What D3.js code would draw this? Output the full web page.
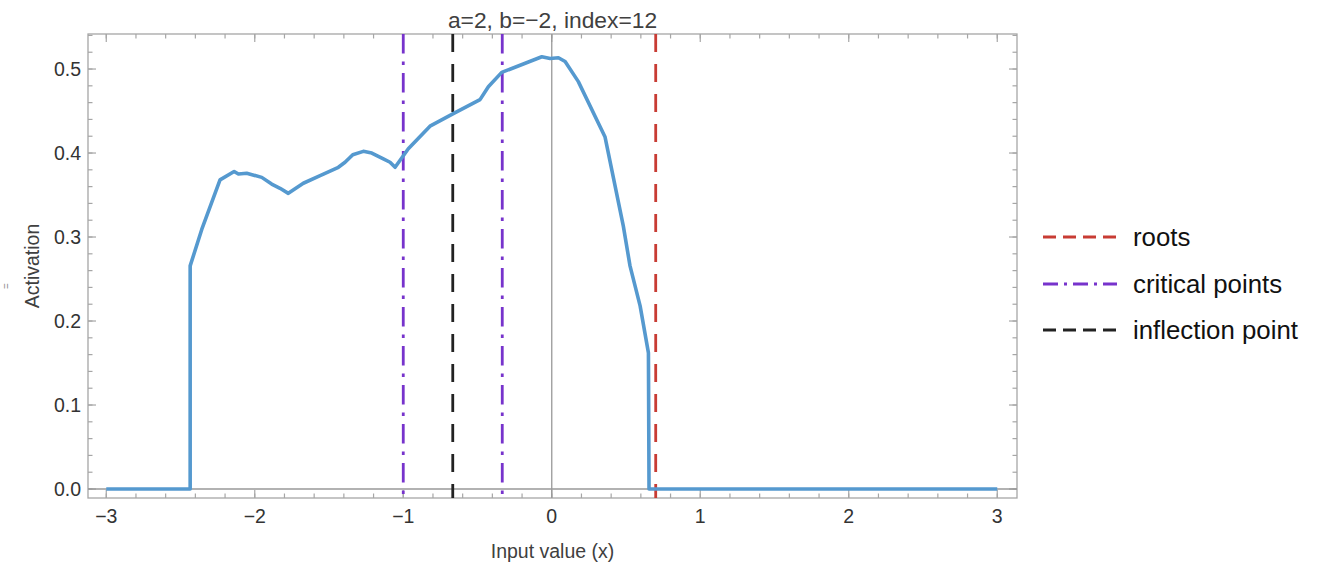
<!DOCTYPE html>
<html>
<head>
<meta charset="utf-8">
<script src="https://cdn.jsdelivr.net/npm/d3@7"></script>
<style>
  body { margin: 0; background: #fff; }
  svg { font-family: "Liberation Sans", Arial, sans-serif; }
</style>
</head>
<body>
<div id="chart"></div>
<script>
// curve
const xs = [-3, -2.435, -2.435, -2.357, -2.234, -2.139, -2.11, -2.054, -1.953, -1.886, -1.83, -1.774,
  -1.673, -1.56, -1.437, -1.392, -1.34, -1.269, -1.212, -1.134, -1.089, -1.055, -0.966, -0.82,
  -0.663, -0.483, -0.427, -0.337, -0.213, -0.067, -0.011, 0.045, 0.09, 0.179, 0.359, 0.482,
  0.527, 0.595, 0.651, 0.655, 1, 2, 3];
const activation = [0, 0, 0.2656, 0.309, 0.368, 0.378, 0.375, 0.376, 0.371, 0.363, 0.358, 0.352,
  0.364, 0.373, 0.383, 0.389, 0.398, 0.402, 0.400, 0.393, 0.389, 0.383, 0.405, 0.432,
  0.447, 0.4636, 0.479, 0.496, 0.5045, 0.5146, 0.5125, 0.5134, 0.509, 0.485, 0.419, 0.313,
  0.2656, 0.218, 0.162, 0, 0, 0, 0];

const roots = [0.7];
const criticalPoints = [-1, -1 / 3];
const inflectionPoints = [-2 / 3];

const xTicks = [-3, -2, -1, 0, 1, 2, 3];
const yTicks = [0, 0.1, 0.2, 0.3, 0.4, 0.5];

const width = 1336, height = 574;
const plotL = 88, plotR = 1017, plotT = 34, plotB = 498;

const blue = "#5599cf", red = "#c83c34", purple = "#7733cc", dark = "#222222";
const textCol = "#333333", frameCol = "#a6a6a6";

const svg = d3.select("#chart").append("svg")
  .attr("width", width).attr("height", height);

const x = d3.scaleLinear().domain([-3.123, 3.133]).range([plotL, plotR]);
const y = d3.scaleLinear().domain([-0.0107, 0.5417]).range([plotB, plotT]);

// frame
svg.append("rect")
  .attr("x", plotL).attr("y", plotT)
  .attr("width", plotR - plotL).attr("height", plotB - plotT)
  .attr("fill", "none").attr("stroke", frameCol).attr("stroke-width", 1.3);

// ticks on all four sides, pointing inward
const xMinor = d3.range(-3.2, 3.21, 0.2).filter(v => v > -3.123 && v < 3.133);
const yMinor = d3.range(0, 0.541, 0.02);

function tickLines(vals, len, horizontal) {
  vals.forEach(v => {
    if (horizontal) {
      const px = x(v);
      svg.append("line").attr("x1", px).attr("x2", px).attr("y1", plotB).attr("y2", plotB - len)
        .attr("stroke", frameCol).attr("stroke-width", 1.2);
      svg.append("line").attr("x1", px).attr("x2", px).attr("y1", plotT).attr("y2", plotT + len)
        .attr("stroke", frameCol).attr("stroke-width", 1.2);
    } else {
      const py = y(v);
      svg.append("line").attr("x1", plotL).attr("x2", plotL + len).attr("y1", py).attr("y2", py)
        .attr("stroke", frameCol).attr("stroke-width", 1.2);
      svg.append("line").attr("x1", plotR).attr("x2", plotR - len).attr("y1", py).attr("y2", py)
        .attr("stroke", frameCol).attr("stroke-width", 1.2);
    }
  });
}
tickLines(xMinor, 4.5, true);
tickLines(xTicks, 8, true);
tickLines(yMinor, 4.5, false);
tickLines(yTicks, 8, false);

// tick labels
svg.selectAll(".xl").data(xTicks).enter().append("text")
  .attr("x", d => x(d)).attr("y", 523)
  .attr("text-anchor", "middle").attr("font-size", 19.5).attr("fill", textCol)
  .text(d => d < 0 ? "\u2212" + Math.abs(d) : d);

svg.selectAll(".yl").data(yTicks).enter().append("text")
  .attr("x", 81).attr("y", d => y(d) + 7)
  .attr("text-anchor", "end").attr("font-size", 19.5).attr("fill", textCol)
  .text(d => d.toFixed(1));

// zero axis lines
svg.append("line").attr("x1", x(0)).attr("x2", x(0)).attr("y1", plotT).attr("y2", plotB)
  .attr("stroke", "#999").attr("stroke-width", 1.3);
svg.append("line").attr("x1", plotL).attr("x2", plotR).attr("y1", y(0)).attr("y2", y(0))
  .attr("stroke", "#999").attr("stroke-width", 1.3);

// reference lines
function vlines(vals, color, dash) {
  vals.forEach(v => {
    svg.append("line").attr("x1", x(v)).attr("x2", x(v)).attr("y1", plotT).attr("y2", plotB)
      .attr("stroke", color).attr("stroke-width", 2.8).attr("stroke-dasharray", dash);
  });
}
vlines(criticalPoints, purple, "19.5,8,3.5,8");
vlines(inflectionPoints, dark, "18,12");
vlines(roots, red, "18,12");

// activation curve
const line = d3.line().x((d, i) => x(xs[i])).y(d => y(d));
svg.append("path").datum(activation)
  .attr("d", line)
  .attr("fill", "none").attr("stroke", blue).attr("stroke-width", 3.6)
  .attr("stroke-linejoin", "round");

// titles
svg.append("text").attr("x", (plotL + plotR) / 2).attr("y", 28)
  .attr("text-anchor", "middle").attr("font-size", 22.8).attr("fill", "#404040")
  .text("a=2, b=\u22122, index=12");

svg.append("text").attr("x", (plotL + plotR) / 2).attr("y", 558)
  .attr("text-anchor", "middle").attr("font-size", 19.5).attr("fill", "#404040")
  .text("Input value (x)");

svg.append("text").attr("transform", "translate(39," + ((plotT + plotB) / 2) + ") rotate(-90)")
  .attr("text-anchor", "middle").attr("font-size", 19.5).attr("fill", "#404040")
  .text("Activation");

svg.append("text").attr("transform", "translate(10,286) rotate(-90)")
  .attr("text-anchor", "middle").attr("font-size", 10).attr("fill", "#888")
  .text("=");

// legend
const legendItems = [
  { label: "roots", color: red, dash: "13,7" },
  { label: "critical points", color: purple, dash: "15,6,3,6" },
  { label: "inflection point", color: dark, dash: "13,7" }
];
const legendY = [237, 284, 330];
legendItems.forEach((it, i) => {
  svg.append("line").attr("x1", 1043).attr("x2", 1117)
    .attr("y1", legendY[i]).attr("y2", legendY[i])
    .attr("stroke", it.color).attr("stroke-width", 3).attr("stroke-dasharray", it.dash);
  svg.append("text").attr("x", 1133).attr("y", legendY[i] + 8.5)
    .attr("font-size", 25.8).attr("fill", "#111")
    .text(it.label);
});
</script>
</body>
</html>
